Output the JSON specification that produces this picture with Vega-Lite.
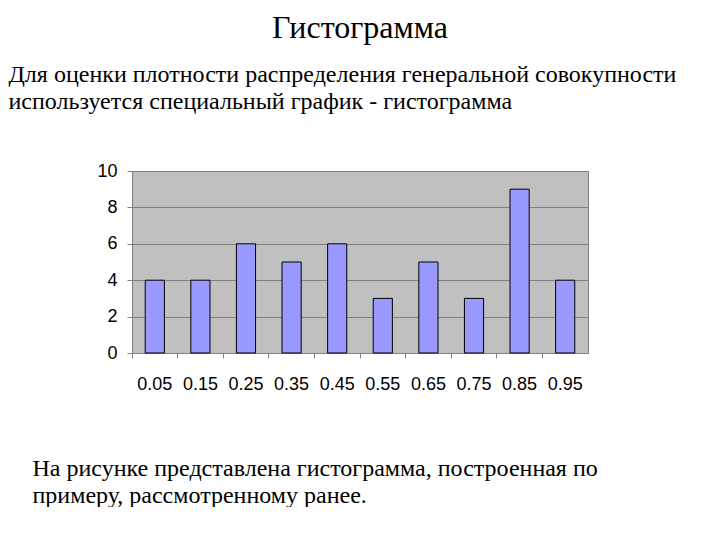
{
  "$schema": "https://vega.github.io/schema/vega-lite/v6.json",
  "background": "white",
  "padding": {"left": 8, "top": 12, "right": 0, "bottom": 0},
  "width": 456,
  "height": 182,
  "title": {"text": "Гистограмма", "anchor": "middle", "frame": "group", "fontSize": 32, "offset": 17},
  "data": {"values": [
    {"x": "0.05", "n": 4}, {"x": "0.15", "n": 4}, {"x": "0.25", "n": 6}, {"x": "0.35", "n": 5},
    {"x": "0.45", "n": 6}, {"x": "0.55", "n": 3}, {"x": "0.65", "n": 5}, {"x": "0.75", "n": 3},
    {"x": "0.85", "n": 9}, {"x": "0.95", "n": 4}
  ]},
  "mark": {"type": "bar", "fill": "#9999FF", "stroke": "black", "strokeWidth": 1, "width": {"band": 0.42}},
  "encoding": {
    "x": {
      "field": "x", "type": "ordinal", "sort": null,
      "scale": {"paddingInner": 0, "paddingOuter": 0},
      "axis": {
        "bandPosition": 0, "labelAngle": 0, "labelFont": "Liberation Sans", "labelFontSize": 18,
        "labelColor": "black", "labelPadding": 17, "tickColor": "#808080", "tickSize": 5,
        "domain": false, "grid": false,
        "title": ["На рисунке представлена гистограмма, построенная по", "примеру, рассмотренному ранее."],
        "titleFont": "Liberation Serif", "titleFontSize": 24, "titleFontWeight": "normal", "titleColor": "black",
        "titleAnchor": "start", "titleAlign": "left", "titleBaseline": "alphabetic", "titleLineHeight": 27,
        "titleX": -100, "titleY": 122
      }
    },
    "y": {
      "field": "n", "type": "quantitative",
      "scale": {"domain": [0, 10], "nice": false},
      "axis": {
        "values": [0, 2, 4, 6, 8, 10], "labelFont": "Liberation Sans", "labelFontSize": 18,
        "labelColor": "black", "labelPadding": 10, "tickColor": "#808080", "tickSize": 5,
        "domain": false, "grid": true, "gridColor": "#808080", "gridOpacity": 1,
        "title": ["Для оценки плотности распределения генеральной совокупности", "используется специальный график - гистограмма"],
        "titleFont": "Liberation Serif", "titleFontSize": 24, "titleFontWeight": "normal", "titleColor": "black",
        "titleAngle": 0, "titleAnchor": "start", "titleAlign": "left", "titleBaseline": "alphabetic",
        "titleLineHeight": 27, "titleX": -124, "titleY": -90
      }
    }
  },
  "config": {
    "view": {"fill": "#C0C0C0", "stroke": "#808080", "strokeWidth": 1},
    "title": {"font": "Liberation Serif", "fontWeight": "normal", "color": "black"}
  }
}
